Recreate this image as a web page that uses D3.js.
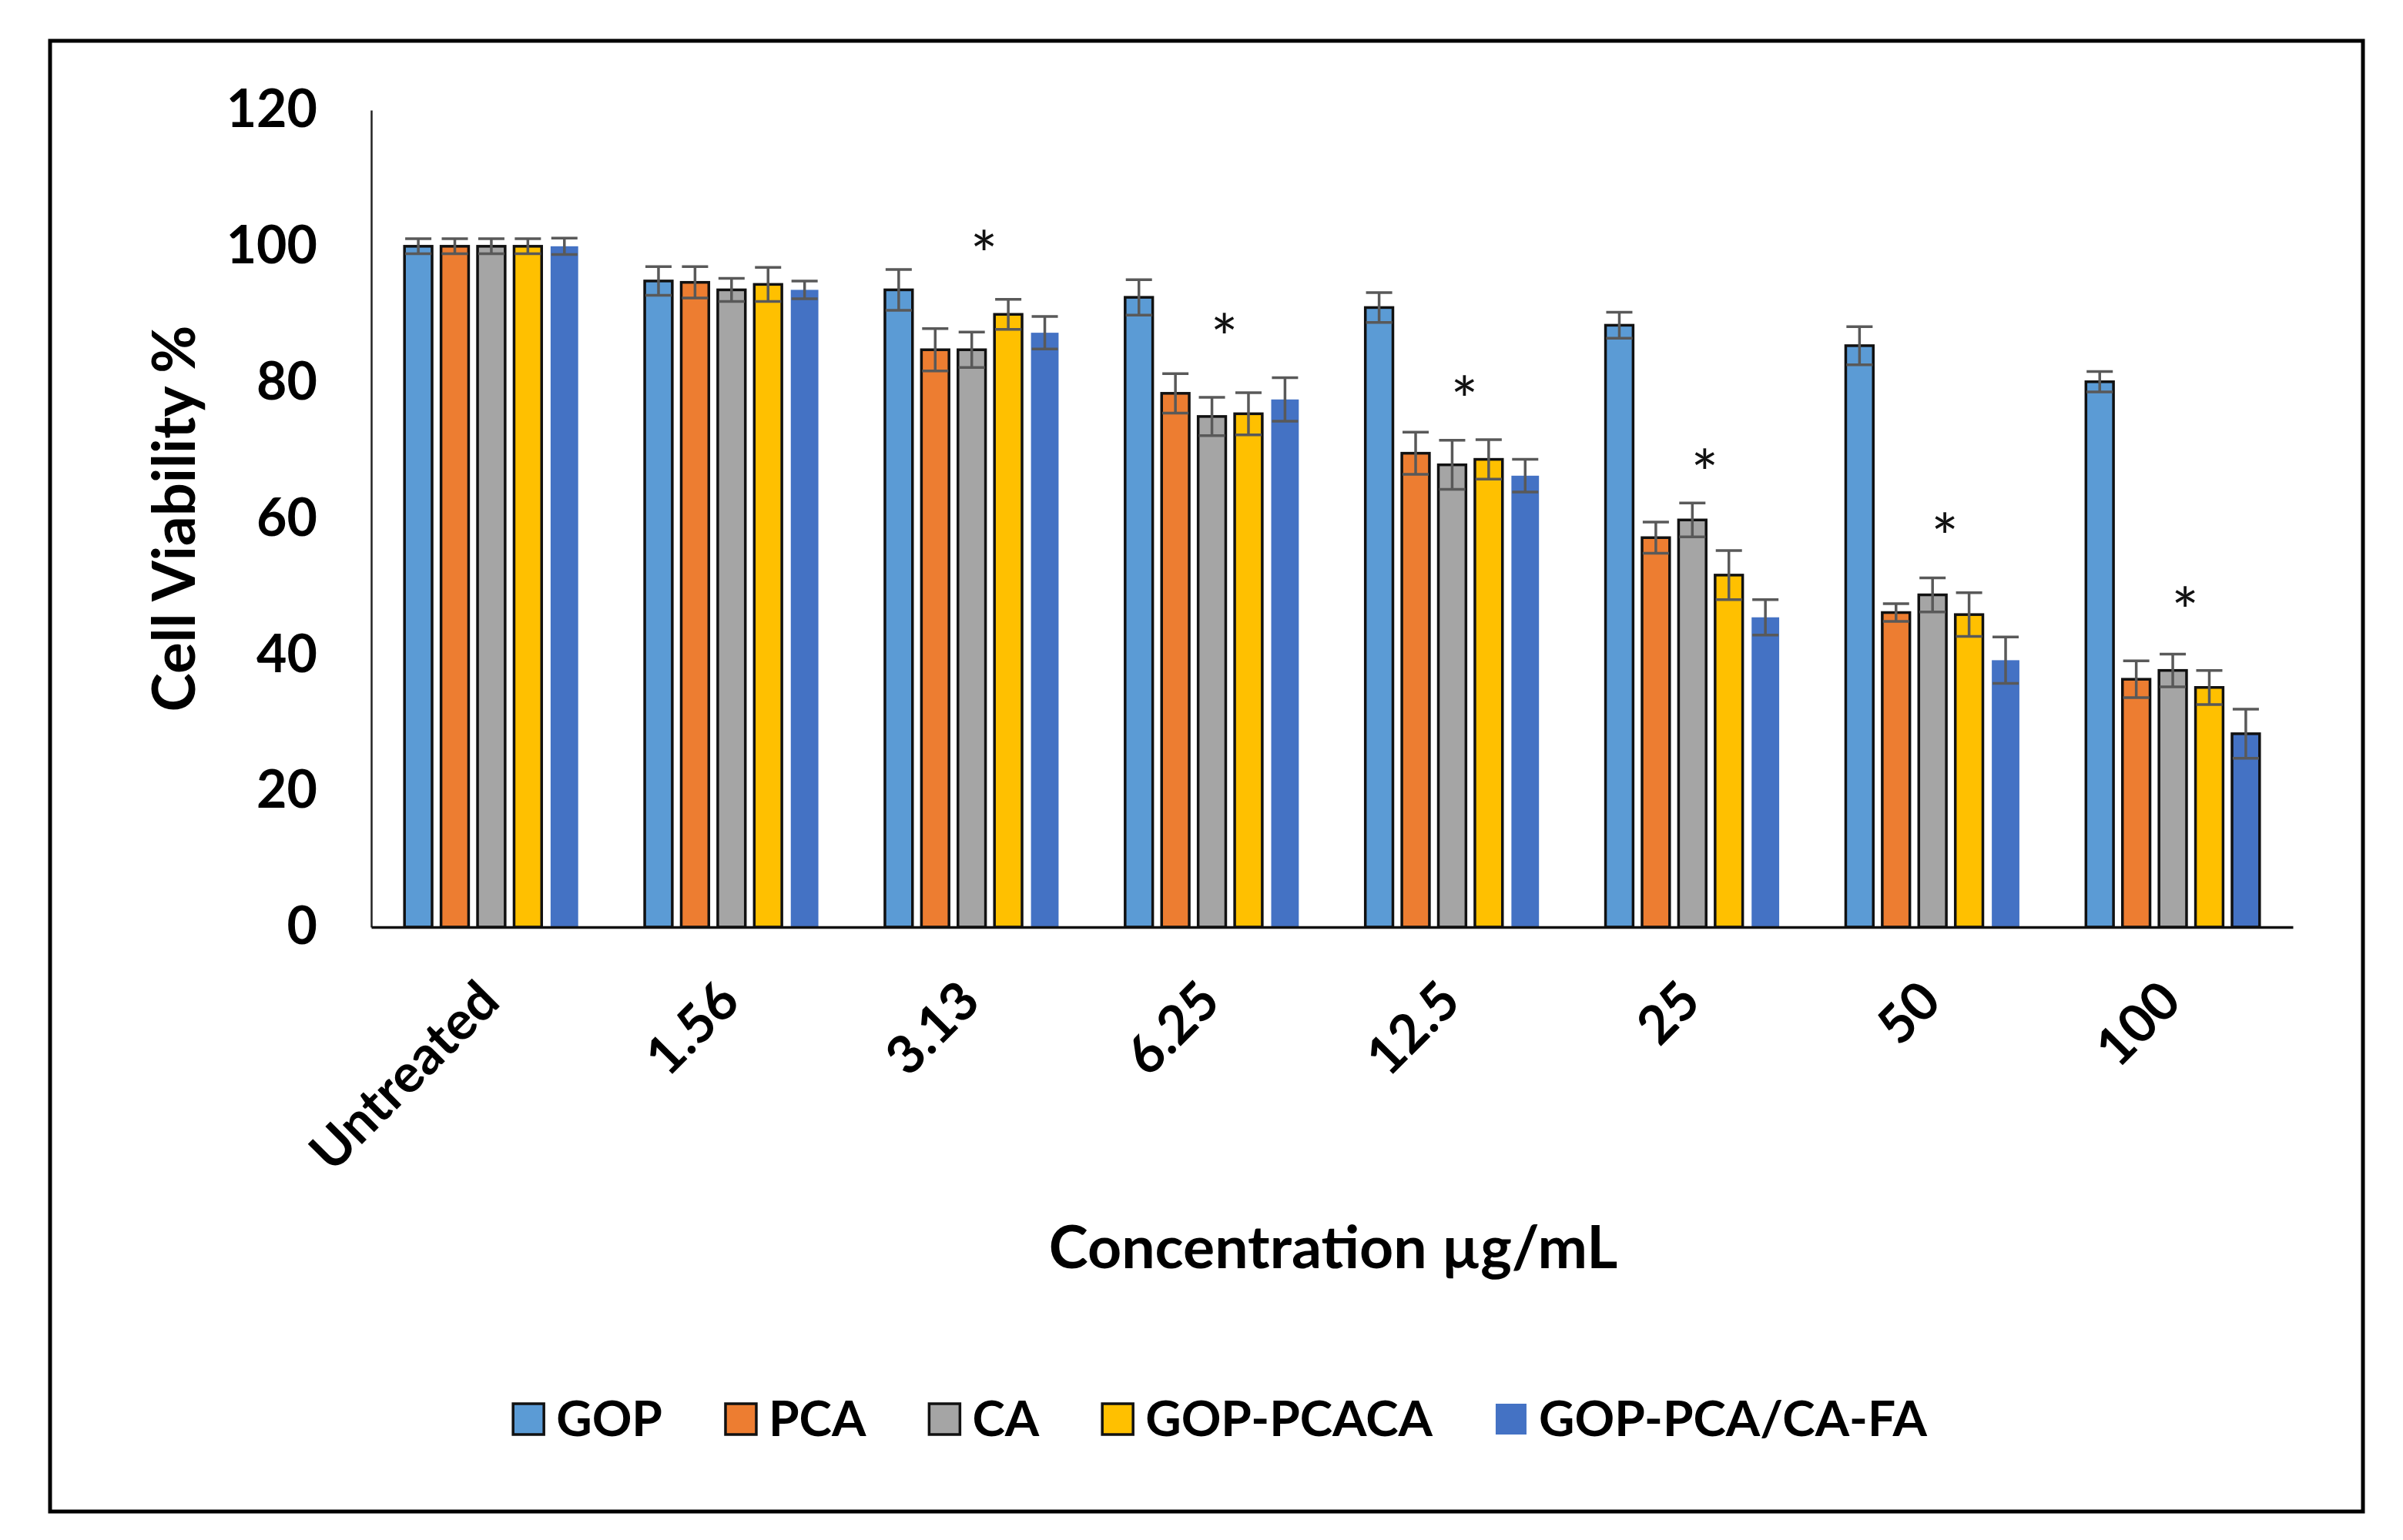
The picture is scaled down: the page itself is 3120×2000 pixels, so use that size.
<!DOCTYPE html>
<html>
<head>
<meta charset="utf-8">
<script src="https://cdn.jsdelivr.net/npm/d3@7"></script>
<style>
  html, body { margin: 0; padding: 0; background: #fff; }
  svg { display: block; }
  text { font-family: Lato, "Open Sans", sans-serif; }
</style>
</head>
<body>
<svg id="chart" width="3120" height="2000"></svg>
<script>
// ---- data ----
const categories = ["Untreated", "1.56", "3.13", "6.25", "12.5", "25", "50", "100"];
const seriesNames = ["GOP", "PCA", "CA", "GOP-PCACA", "GOP-PCA/CA-FA"];
const gop    = [100, 94.9, 93.6, 92.5, 91.0, 88.4, 85.4, 80.1];
const pca    = [100, 94.7, 84.8, 78.4, 69.6, 57.2, 46.2, 36.4];
const ca     = [100, 93.6, 84.8, 75.0, 67.9, 59.8, 48.8, 37.7];
const gpc    = [100, 94.4, 90.0, 75.4, 68.7, 51.7, 45.9, 35.2];
const gpcfa  = [100, 93.6, 87.3, 77.5, 66.3, 45.5, 39.2, 28.4];
const gopErr   = [1.1, 2.1, 3.0, 2.6, 2.2, 1.9, 2.8, 1.5];
const pcaErr   = [1.1, 2.3, 3.1, 2.9, 3.1, 2.3, 1.3, 2.7];
const caErr    = [1.1, 1.7, 2.6, 2.8, 3.6, 2.5, 2.5, 2.4];
const gpcErr   = [1.1, 2.5, 2.2, 3.1, 2.9, 3.6, 3.2, 2.5];
const gpcfaErr = [1.2, 1.3, 2.4, 3.2, 2.4, 2.6, 3.4, 3.6];
const starLevel = [null, null, 100.6, 88.4, 79.2, 68.5, 59.1, 48.2];
const yTicks = [0, 20, 40, 60, 80, 100, 120];
const xTitle = "Concentration µg/mL";
const yTitle = "Cell Viability %";

const seriesValues = [gop, pca, ca, gpc, gpcfa];
const seriesErrors = [gopErr, pcaErr, caErr, gpcErr, gpcfaErr];
const colors = ["#5B9BD5", "#ED7D31", "#A5A5A5", "#FFC000", "#4472C4"];

// ---- layout ----
const svg = d3.select("#chart");
svg.append("rect").attr("width", 3120).attr("height", 2000).attr("fill", "#fff");
svg.append("rect").attr("x", 65).attr("y", 53).attr("width", 3003).attr("height", 1910)
   .attr("fill", "none").attr("stroke", "#000").attr("stroke-width", 5);

const plot = { left: 482, right: 2977, top: 143, bottom: 1204 };

const x0 = d3.scaleBand().domain(categories).range([plot.left, plot.right])
  .paddingInner(0.277).paddingOuter(0.1385);
const x1 = d3.scaleBand().domain(d3.range(seriesNames.length)).range([0, x0.bandwidth()])
  .paddingInner(0.245).paddingOuter(0);
const y = d3.scaleLinear().domain([0, 120]).range([plot.bottom, plot.top]);

const rows = [];
categories.forEach((c, ci) => {
  seriesNames.forEach((s, si) => {
    rows.push({ cat: c, ci, si, v: seriesValues[si][ci], e: seriesErrors[si][ci] });
  });
});

const outlined = d => d.si < 4 || d.cat === "100";

// bars
const g = svg.append("g");
g.selectAll("rect.bar").data(rows).join("rect")
  .attr("class", "bar")
  .attr("x", d => x0(d.cat) + x1(d.si))
  .attr("width", x1.bandwidth())
  .attr("y", d => y(d.v))
  .attr("height", d => y(0) - y(d.v))
  .attr("fill", d => colors[d.si])
  .attr("stroke", d => outlined(d) ? "#111" : "none")
  .attr("stroke-width", 3.5);

// error bars
const capHalf = 17;
const eb = svg.append("g").attr("stroke", "#595959").attr("stroke-width", 3.5).attr("fill", "none");
rows.forEach(d => {
  const cx = x0(d.cat) + x1(d.si) + x1.bandwidth() / 2;
  const y1 = y(d.v + d.e), y2 = y(d.v - d.e);
  eb.append("line").attr("x1", cx).attr("x2", cx).attr("y1", y1).attr("y2", y2);
  eb.append("line").attr("x1", cx - capHalf).attr("x2", cx + capHalf).attr("y1", y1).attr("y2", y1);
  eb.append("line").attr("x1", cx - capHalf).attr("x2", cx + capHalf).attr("y1", y2).attr("y2", y2);
});

// stars
svg.append("g").selectAll("text.star")
  .data(categories.map((c, i) => ({ c, v: starLevel[i] })).filter(d => d.v !== null))
  .join("text")
  .attr("class", "star")
  .attr("x", d => x0(d.c) + x0.bandwidth() / 2 + 16)
  .attr("y", d => y(d.v))
  .attr("dy", "0.55em")
  .attr("text-anchor", "middle")
  .attr("font-size", 84)
  .attr("fill", "#111")
  .text("*");

// y axis
const yAxis = svg.append("g").attr("transform", `translate(${plot.left},0)`)
  .call(d3.axisLeft(y).tickValues(yTicks).tickSize(0).tickPadding(70).tickSizeOuter(0));
yAxis.select(".domain").attr("stroke", "#222").attr("stroke-width", 2.5);
yAxis.selectAll("text").attr("font-size", 68).attr("font-weight", 700).attr("fill", "#000")
  .attr("font-family", "Lato, sans-serif");

// x axis
const xAxis = svg.append("g").attr("transform", `translate(0,${plot.bottom})`)
  .call(d3.axisBottom(x0).tickSize(0).tickSizeOuter(0));
xAxis.select(".domain").attr("stroke", "#111").attr("stroke-width", 3.5);
xAxis.selectAll("text")
  .attr("font-size", 69).attr("font-weight", 700).attr("fill", "#000")
  .attr("font-family", "Lato, sans-serif")
  .attr("text-anchor", "end")
  .attr("dy", 0)
  .attr("y", 0)
  .attr("transform", "translate(14,100) rotate(-45)");

// axis titles
svg.append("text").attr("x", 1731).attr("y", 1620)
  .attr("dy", "0.35em").attr("text-anchor", "middle")
  .attr("font-size", 77).attr("font-weight", 700).text(xTitle);
svg.append("text").attr("transform", `translate(226,${(plot.top + plot.bottom) / 2}) rotate(-90)`)
  .attr("dy", "0.35em").attr("text-anchor", "middle")
  .attr("font-size", 76).attr("font-weight", 700).text(yTitle);

// legend
const legend = svg.append("g");
const sq = 40, gapText = 16, gapItem = 82;
let cursor = 0;
seriesNames.forEach((s, i) => {
  const it = legend.append("g");
  it.append("rect").attr("x", 0).attr("y", -sq / 2).attr("width", sq).attr("height", sq)
    .attr("fill", colors[i])
    .attr("stroke", i < 4 ? "#111" : "none").attr("stroke-width", 3.5);
  const t = it.append("text").attr("x", sq + gapText).attr("dy", "0.35em")
    .attr("font-size", 64).attr("font-weight", 700).text(s);
  const w = sq + gapText + t.node().getComputedTextLength();
  it.attr("transform", `translate(${cursor},0)`);
  cursor += w + gapItem;
});
const totalW = cursor - gapItem;
legend.attr("transform", `translate(${1584 - totalW / 2},1843)`);
</script>
</body>
</html>
